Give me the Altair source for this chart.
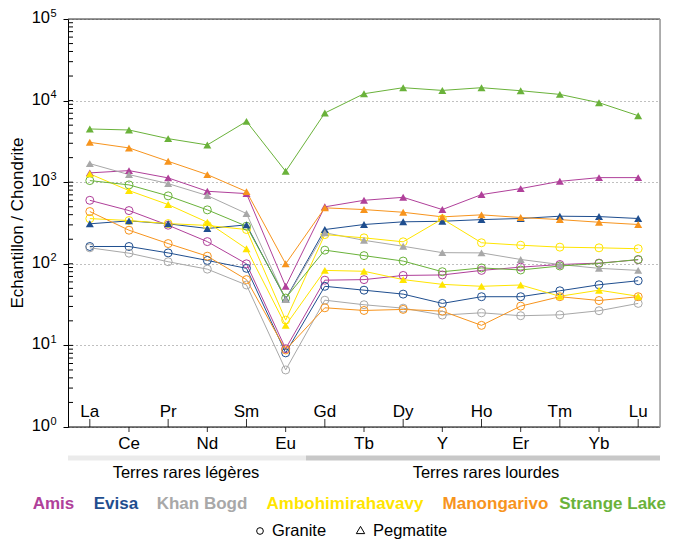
import altair as alt
import pandas as pd

elements = ["La", "Ce", "Pr", "Nd", "Sm", "Eu", "Gd", "Tb", "Dy", "Y", "Ho", "Er", "Tm", "Yb", "Lu"]
upper_labels = ["La", "Pr", "Sm", "Gd", "Dy", "Ho", "Tm", "Lu"]
lower_labels = ["Ce", "Nd", "Eu", "Tb", "Y", "Er", "Yb"]

localities = ["Amis", "Evisa", "Khan Bogd", "Ambohimirahavavy", "Manongarivo", "Strange Lake"]
loc_colors = ["#B0409A", "#1F4E8F", "#A8A8A8", "#FFE500", "#F7941D", "#6AB23A"]

# Granite (circles)
amis_granite = [600, 449, 297, 187, 100, 9.1, 63, 64, 72, 73, 83, 91, 98, 102, 112]
evisa_granite = [163, 163, 136, 110, 88, 8.1, 53, 47.5, 42.5, 32.7, 39.5, 39.5, 46.7, 55.3, 62]
khanbogd_granite = [157, 135, 106, 86, 55, 5.0, 35.8, 31.5, 28.6, 23.5, 25.1, 23.1, 23.7, 26.6, 32.7]
ambo_granite = [358, 339, 311, 295, 263, 20.4, 228, 208, 186, 355, 181, 169, 160, 157, 153]
mano_granite = [437, 258, 177, 124, 64, 8.8, 28.9, 26.8, 27.6, 26.3, 17.6, 30.3, 39.5, 35.5, 39.5]
strange_granite = [1046, 927, 680, 458, 289, 38, 147, 126, 108, 80, 89, 84, 94, 101, 113]

# Pegmatite (triangles)
amis_peg = [1300, 1387, 1129, 774, 725, 53, 499, 600, 653, 462, 705, 835, 1025, 1138, 1138]
evisa_peg = [309, 336, 309, 271, 300, 37, 263, 303, 327, 332, 348, 359, 383, 379, 359]
khanbogd_peg = [1690, 1239, 961, 686, 413, 36.6, 240, 194, 164, 137, 136, 113, 98, 88, 83]
ambo_peg = [1264, 789, 532, 323, 153, 17.6, 83, 81, 64, 56, 53, 55, 40, 47.5, 40]
mano_peg = [3080, 2630, 1803, 1239, 767, 100, 485, 462, 428, 376, 398, 369, 348, 323, 303]
strange_peg = [4490, 4365, 3418, 2862, 5560, 1359, 7047, 12140, 14390, 13330, 14390, 13210, 11910, 9420, 6530]

granite_series = [amis_granite, evisa_granite, khanbogd_granite, ambo_granite, mano_granite, strange_granite]
peg_series = [amis_peg, evisa_peg, khanbogd_peg, ambo_peg, mano_peg, strange_peg]

rows = []
for loc, col, g, p in zip(localities, loc_colors, granite_series, peg_series):
    for rock, vals in (("Granite", g), ("Pegmatite", p)):
        for i, el in enumerate(elements):
            rows.append(dict(locality=loc, rock=rock, series=loc + " " + rock,
                             element=el, idx=i, value=vals[i], color=col))
df = pd.DataFrame(rows)

W, H = 592, 408
FONT = "Liberation Sans"

xscale = alt.Scale(type="point", domain=elements, padding=0.557)
yscale = alt.Scale(type="log", domain=[1, 100000])
yaxis = alt.Axis(values=[1, 10, 100, 1000, 10000, 100000], labels=False, title=None,
                 grid=True, gridDash=[1, 3], gridColor="#808080", gridWidth=1,
                 domainColor="#000000", tickColor="#000000", tickSize=5, tickWidth=1)


def X(field="element"):
    return alt.X(f"{field}:N", scale=xscale, axis=None)


def Y(field="value"):
    return alt.Y(f"{field}:Q", scale=yscale, axis=yaxis)


one = pd.DataFrame({"a": [0]})

lines = alt.Chart(df).mark_line(strokeWidth=1).encode(
    x=X(), y=Y(), color=alt.Color("color:N", scale=None),
    detail="series:N", order=alt.Order("idx:Q"))

circles = alt.Chart(df).transform_filter(alt.datum.rock == "Granite").mark_point(
    shape="circle", filled=False, size=64, strokeWidth=1, opacity=1).encode(
    x=X(), y=Y(), color=alt.Color("color:N", scale=None))

triangles = alt.Chart(df).transform_filter(alt.datum.rock == "Pegmatite").mark_point(
    shape="triangle-up", filled=True, size=64, opacity=1).encode(
    x=X(), y=Y(), color=alt.Color("color:N", scale=None))

# inner minor ticks on log axis
minor_vals = [m * 10 ** d for d in range(5) for m in range(1, 10) if m * 10 ** d > 1]
minor_df = pd.DataFrame({"value": minor_vals})
minor = alt.Chart(minor_df).mark_rule(color="#000000", strokeWidth=1).encode(
    y=Y(), x=alt.value(0), x2=alt.value(5))

# y labels 10^n
dec_df = pd.DataFrame({"value": [10 ** k for k in range(6)], "exp": [str(k) for k in range(6)]})
ylab = alt.Chart(dec_df).mark_text(align="right", baseline="middle", fontSize=16.5, font=FONT,
                                   dy=-1, color="#000").encode(
    y=Y(), x=alt.value(-18), text=alt.value("10"))
yexp = alt.Chart(dec_df).mark_text(align="left", baseline="middle", fontSize=11, font=FONT,
                                   dy=-5.5, color="#000").encode(
    y=Y(), x=alt.value(-17.5), text="exp:N")
ytitle = alt.Chart(one).mark_text(angle=270, fontSize=17, font=FONT, color="#000",
                                  baseline="middle", align="center").encode(
    x=alt.value(-50), y=alt.value(H / 2), text=alt.value("Echantillon / Chondrite"))

# x axis labels and ticks
up_df = pd.DataFrame({"element": upper_labels})
lo_df = pd.DataFrame({"element": lower_labels})
up_ticks = alt.Chart(up_df).mark_rule(color="#333", strokeWidth=1).encode(
    x=X(), y=alt.value(H - 8), y2=alt.value(H))
lo_ticks = alt.Chart(lo_df).mark_rule(color="#333", strokeWidth=1).encode(
    x=X(), y=alt.value(H), y2=alt.value(H + 5))
up_text = alt.Chart(up_df).mark_text(fontSize=17, font=FONT, baseline="alphabetic",
                                     color="#000").encode(
    x=X(), y=alt.value(H - 10), text="element:N")
lo_text = alt.Chart(lo_df).mark_text(fontSize=17, font=FONT, baseline="alphabetic",
                                     color="#000").encode(
    x=X(), y=alt.value(H + 22), text="element:N")

# frame lines
bottom_line = alt.Chart(one).mark_rule(color="#000", strokeWidth=1).encode(
    x=alt.value(0), x2=alt.value(W), y=alt.value(H))
top_line = alt.Chart(one).mark_rule(color="#333", strokeWidth=1).encode(
    x=alt.value(0), x2=alt.value(W), y=alt.value(0))
right_line = alt.Chart(one).mark_rule(color="#9a9a9a", strokeWidth=1.5).encode(
    x=alt.value(W), y=alt.value(0), y2=alt.value(H))

# group bars
light_bar = alt.Chart(one).mark_rule(color="#EBEBEB", strokeWidth=5).encode(
    x=alt.value(0), x2=alt.value(238), y=alt.value(H + 31))
dark_bar = alt.Chart(one).mark_rule(color="#C8C8C8", strokeWidth=5).encode(
    x=alt.value(238), x2=alt.value(W), y=alt.value(H + 31))
light_txt = alt.Chart(one).mark_text(fontSize=16.5, font=FONT, color="#000",
                                     baseline="alphabetic").encode(
    x=alt.value(118), y=alt.value(H + 51), text=alt.value("Terres rares légères"))
heavy_txt = alt.Chart(one).mark_text(fontSize=16.5, font=FONT, color="#000",
                                     baseline="alphabetic").encode(
    x=alt.value(418), y=alt.value(H + 51), text=alt.value("Terres rares lourdes"))

# legend (locality names, coloured)
legend_x = [-14.5, 48, 134, 277, 427.5, 598]
legend_align = ["center", "center", "center", "center", "center", "right"]
legend_layers = []
for name, col, lx, al in zip(localities, loc_colors, legend_x, legend_align):
    legend_layers.append(
        alt.Chart(one).mark_text(fontSize=17, font=FONT, fontWeight="bold", color=col,
                                 align=al, baseline="alphabetic").encode(
            x=alt.value(lx), y=alt.value(H + 82), text=alt.value(name)))

sym_circle = alt.Chart(one).mark_point(shape="circle", filled=False, size=45, color="#000",
                                       strokeWidth=1, opacity=1).encode(
    x=alt.value(192), y=alt.value(H + 104))
sym_tri = alt.Chart(one).mark_point(shape="triangle-up", filled=False, size=70, color="#000",
                                    strokeWidth=1, opacity=1).encode(
    x=alt.value(292.5), y=alt.value(H + 103))
gran_txt = alt.Chart(one).mark_text(fontSize=16.5, font=FONT, color="#000", align="left",
                                    baseline="alphabetic").encode(
    x=alt.value(204), y=alt.value(H + 109), text=alt.value("Granite"))
peg_txt = alt.Chart(one).mark_text(fontSize=16.5, font=FONT, color="#000", align="left",
                                   baseline="alphabetic").encode(
    x=alt.value(305), y=alt.value(H + 109), text=alt.value("Pegmatite"))

chart = alt.layer(
    lines, circles, triangles, minor, ylab, yexp, ytitle,
    up_ticks, lo_ticks, up_text, lo_text, bottom_line, top_line, right_line,
    light_bar, dark_bar, light_txt, heavy_txt, *legend_layers,
    sym_circle, sym_tri, gran_txt, peg_txt
).properties(
    width=W, height=H,
    autosize=alt.AutoSizeParams(type="none"),
    padding={"left": 60, "top": 11, "right": 7, "bottom": 117},
).configure_view(stroke=None).configure(background="white")

chart.save("out.html", embed_options={"renderer": "svg", "actions": False})
